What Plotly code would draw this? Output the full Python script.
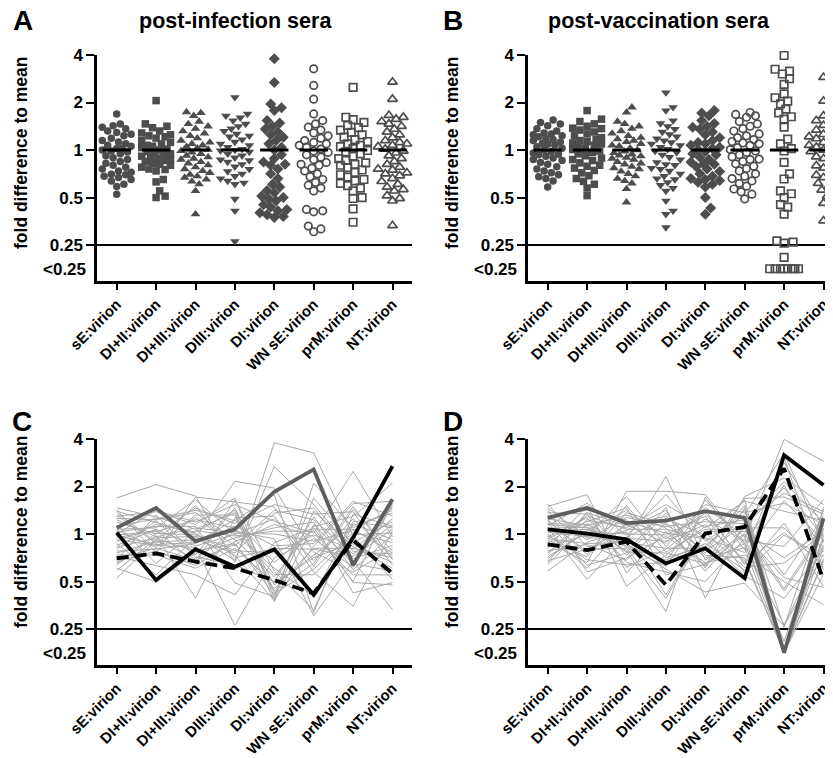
import math
import plotly.graph_objects as go

# ---------------- data ----------------
categories = ["sE:virion", "DI+II:virion", "DI+III:virion", "DIII:virion",
              "DI:virion", "WN sE:virion", "prM:virion", "NT:virion"]
ytick_vals = [4, 2, 1, 0.5, 0.25]
ytick_text = ["4", "2", "1", "0.5", "0.25"]
below_text = "<0.25"
BELOW_POS = 0.177      # plotting position of values below 0.25
LOD = 0.25             # detection limit line
MEAN = 1.0             # mean line (fold difference to mean = 1)

# log2 fold difference to mean, one value per serum (None = below 0.25)
# row 0: dark grey highlighted serum, row 1: black serum, row 2: black dashed serum
inf_sE = [0.13, 0.03, -0.51, 0.4, -0.55, 0.2, -0.08, 0.76, -0.36, 0.04, -0.65, 0.33, -0.2, 0.48, -0.93, 0.0, -0.44, 0.25, -0.12, 0.55, -0.72, 0.1, -0.28, 0.37, -0.58, -0.02, 0.45, -0.16, -0.47, 0.17, -0.77, 0.3, -0.32, 0.51, -0.62, 0.08, -0.24, -0.4, -0.04, -0.52]
inf_DI_II = [0.55, -0.97, -0.41, -0.2, 0.4, -0.62, 0.08, 1.04, -0.32, 0.16, -0.03, 0.3, -0.86, 0.25, -0.13, 0.5, -0.44, 0.0, -0.24, 0.36, -1.0, 0.13, -0.08, 0.47, -0.36, 0.05, -0.17, 0.2, -0.67, 0.32, -0.1, -0.06, 0.28, -0.4, 0.02, -0.28, 0.1, -0.15, -0.22, -0.3]
inf_DI_III = [-0.15, -0.32, -0.58, 0.35, -0.44, 0.07, -0.62, 0.8, -0.2, 0.16, -1.35, 0.45, -0.08, 0.01, -0.52, 0.25, -0.72, 0.55, -0.28, 0.1, -0.4, 0.72, -0.05, 0.2, -0.66, 0.3, -0.12, 0.04, -0.86, 0.5, -0.36, 0.13, -0.48, 0.78, -0.02, 0.4, -0.25, 0.6, -0.18, -0.55]
inf_DIII = [0.10, -0.69, -0.72, -0.25, 0.55, -0.04, 0.72, -0.6, 0.17, -1.03, 0.34, -0.12, 1.11, -0.45, 0.06, 0.62, -0.3, 0.22, -1.92, 0.45, -0.08, 0.0, -0.55, 0.76, -0.16, 0.13, -0.4, 0.5, -1.28, 0.28, -0.2, 0.02, -0.65, 0.68, -0.35, 0.4, -0.01, -0.5, 0.3, -0.22]
inf_DI = [0.89, -0.32, -0.97, 0.5, -1.2, 0.06, -0.78, 1.92, -0.25, -1.32, 0.38, -0.9, 0.97, -1.4, -0.1, 0.27, -1.03, 0.62, -0.5, -1.25, 0.13, -0.72, 1.42, -1.36, 0.2, -0.85, 0.44, -1.07, -0.18, 0.83, -1.28, 0.0, -1.0, 0.57, -0.4, -1.42, 0.32, -0.3, -0.6, -1.15]
inf_WN = [1.36, -1.28, -1.25, 0.3, -0.62, 0.06, -1.6, 1.71, -0.2, 0.48, -0.8, 0.16, -0.38, 1.07, -1.72, 0.02, -0.5, 0.42, -0.1, -0.74, 0.25, -1.3, 0.62, -0.26, -0.05, -0.86, 0.55, -0.44, 0.13, -1.66, 0.76, -0.15, 0.36, -0.68, -0.02, 0.2, -0.56, -0.32, 0.1, -0.3]
inf_prM = [-0.65, -0.08, -0.13, -0.42, 0.58, -1.0, 0.22, -0.04, 0.69, -0.27, -1.52, 0.37, -0.8, 0.13, -0.57, 1.32, -0.18, 0.47, -0.7, 0.03, -1.24, 0.27, -0.37, 0.64, -0.86, -0.01, -0.52, 0.18, -1.02, 0.42, -0.22, 0.07, -0.75, 0.52, -0.32, -0.62, 0.32, -0.47, 0.1, -0.3]
inf_NT = [0.73, 1.43, -0.83, 0.2, -0.54, 0.65, -0.12, -0.96, 0.38, -0.72, 0.07, 1.07, -0.3, 0.5, -1.59, -0.06, 0.26, -0.66, 0.6, -0.18, -1.02, 0.13, -0.42, 0.69, -0.86, 0.02, -0.24, 0.44, -1.07, 0.16, -0.6, 0.55, -0.02, -0.36, 0.32, -0.78, -0.48, 0.1, -0.4, -0.5]

vac_sE = [0.34, 0.10, -0.22, 0.28, -0.44, 0.04, 0.58, -0.17, -0.65, 0.4, -0.06, 0.14, -0.52, 0.63, -0.3, 0.0, 0.2, -0.78, 0.45, -0.13, 0.07, -0.4, 0.51, -0.26, 0.17, -0.56, 0.32, -0.03, -0.6, 0.55, -0.09, 0.24, -0.48, 0.36, -0.35, 0.12, 0.3, -0.2, -0.1, 0.22]
vac_DI_II = [0.55, 0.01, -0.34, -0.38, 0.46, -0.05, 0.83, -0.6, 0.22, -0.12, 0.34, -0.96, 0.07, -0.27, 0.6, -0.72, 0.13, -0.17, 0.42, -0.48, 0.1, 0.3, -0.8, -0.02, 0.65, -0.32, 0.18, -0.54, 0.45, -0.08, 0.26, -0.66, 0.04, 0.5, -0.22, 0.15, -0.43, 0.38, -0.2, 0.2]
vac_DI_III = [0.23, -0.11, -0.16, 0.2, -0.45, 0.04, -0.82, 0.9, -0.25, 0.35, -0.6, -0.06, 0.5, -0.13, -1.1, 0.26, -0.35, 0.08, -0.7, 0.45, -0.2, 0.13, -0.5, 0.79, -0.03, -0.3, 0.4, -0.65, 0.17, -0.09, 0.55, -0.4, 0.0, 0.3, -0.55, -0.28, 0.6, 0.1, -0.18, -0.38]
vac_DIII = [0.28, -0.62, -1.07, -0.2, 0.44, -1.28, 0.06, 0.9, -0.55, 0.16, -0.8, 0.33, -0.1, 1.21, -0.44, 0.02, -1.63, 0.5, -0.32, 0.2, -0.74, 0.62, -0.05, -0.26, 0.83, -1.35, 0.13, -0.6, 0.38, -0.15, -0.86, 0.56, -0.02, -0.5, 0.24, -0.68, -0.38, 0.1, -0.3, -0.4]
vac_DI = [0.48, -0.30, 0.01, 0.62, -0.45, 0.06, -0.68, 0.83, -0.2, 0.26, -1.0, -0.03, 0.44, -0.55, 0.16, -0.1, 0.78, -0.72, 0.32, -0.35, -1.22, 0.13, -0.6, 0.56, -0.15, 0.03, -0.78, 0.72, -0.4, 0.2, -0.64, -1.35, 0.38, -0.25, -0.5, 0.5, 0.1, -0.08, -0.3, -0.62]
vac_WN = [0.34, -0.93, 0.15, 0.45, -0.5, 0.05, 0.79, -0.24, -0.76, 0.22, -0.1, 0.72, -0.6, 0.01, 0.3, -0.88, -0.34, 0.55, -0.14, 0.18, -1.03, 0.69, -0.44, -0.05, 0.4, -0.7, 0.13, -0.19, 0.75, -0.55, -0.02, 0.26, -0.82, 0.5, -0.29, -0.65, 0.1, -0.39, 0.6, -0.2]
vac_prM = [None, 1.66, 1.38, 0.65, None, -0.5, 1.18, -1.91, 0.23, -0.86, 1.99, None, 0.03, -1.2, 0.86, -1.35, 1.5, None, -0.26, 0.97, -1.94, 0.48, -1.0, None, 1.7, -0.61, 0.13, -2.26, 0.78, None, -0.92, 1.1, -0.02, -1.96, None, 1.6, -1.15, 0.7, None, 1.03]
vac_NT = [0.33, 1.03, -0.97, 0.2, -0.53, 0.06, 0.62, -0.23, -1.1, 0.38, 1.53, -0.1, -0.64, 0.03, 0.47, -0.33, 0.16, -0.84, 0.72, -0.06, -0.43, 0.28, -1.49, 0.57, -0.18, 0.0, -0.7, 0.13, 0.42, -0.28, -1.12, 0.24, -0.48, 0.52, -0.03, -0.76, 0.1, -0.14, -0.58, -0.38]

inf_cols = [inf_sE, inf_DI_II, inf_DI_III, inf_DIII, inf_DI, inf_WN, inf_prM, inf_NT]
vac_cols = [vac_sE, vac_DI_II, vac_DI_III, vac_DIII, vac_DI, vac_WN, vac_prM, vac_NT]

symbols = ["circle", "square", "triangle-up", "triangle-down", "diamond",
           "circle-open", "square-open", "triangle-up-open"]

# ---------------- styling ----------------
PAGE_W, PAGE_H = 833, 758
OFF = 8                        # default page margin around the figure
W, H = PAGE_W - OFF, PAGE_H - OFF
FONT = "Liberation Sans"
MARK = "#4d4d4d"
GREY = "#a8a8a8"
DARKGREY = "#5e5e5e"
PX_PER_LOG2 = 47.5
PX_PER_CAT = 39.4


def pxx(x):
    return (x - OFF) / W


def pxy(y):
    return 1 - (y - OFF) / H


def fold(v):
    return BELOW_POS if v is None else 2 ** v


def swarm_offsets(ypix, size=7.4, step=1.8, max_off=14.5):
    n = len(ypix)
    order = sorted(range(n), key=lambda i: ypix[i])
    cands = [0.0]
    k = 1
    while k * step <= max_off + 1e-9:
        cands += [k * step, -k * step]
        k += 1
    placed, offs = [], [0.0] * n
    for i in order:
        y = ypix[i]
        near = [(ox, oy) for ox, oy in placed if abs(oy - y) < size]
        chosen = None
        for c in cands:
            if all((c - ox) ** 2 + (y - oy) ** 2 >= size * size for ox, oy in near):
                chosen = c
                break
        if chosen is None:
            chosen = max(cands, key=lambda c: min((c - ox) ** 2 + (y - oy) ** 2 for ox, oy in near))
        placed.append((chosen, y))
        offs[i] = chosen
    return offs


fig = go.Figure()

# ---------- scatter panels A (x,y) and B (x2,y2) ----------
for cols, xa, ya in [(inf_cols, "x", "y"), (vac_cols, "x2", "y2")]:
    fig.add_trace(go.Scatter(x=[-0.5, 7.5], y=[LOD, LOD], mode="lines",
                             line=dict(color="black", width=2), xaxis=xa, yaxis=ya,
                             showlegend=False, hoverinfo="skip"))
    for j, col in enumerate(cols):
        ypix = [(-2.5 if v is None else v) * PX_PER_LOG2 for v in col]
        offs = swarm_offsets(ypix)
        xs = [j + o / PX_PER_CAT for o in offs]
        ys = [fold(v) for v in col]
        open_sym = symbols[j].endswith("open")
        big = "triangle" in symbols[j] or "diamond" in symbols[j]
        fig.add_trace(go.Scatter(
            x=xs, y=ys, mode="markers", xaxis=xa, yaxis=ya, showlegend=False,
            cliponaxis=False,
            marker=dict(symbol=symbols[j], size=8.5 if big else 7.5,
                        color=MARK, line=dict(color=MARK, width=1.7 if open_sym else 0))))
    mx, my = [], []
    for j in range(len(cols)):
        mx += [j - 0.36, j + 0.36, None]
        my += [MEAN, MEAN, None]
    fig.add_trace(go.Scatter(x=mx, y=my, mode="lines", line=dict(color="black", width=3),
                             xaxis=xa, yaxis=ya, showlegend=False, hoverinfo="skip"))

# ---------- line panels C (x3,y3) and D (x4,y4) ----------
for cols, xa, ya in [(inf_cols, "x3", "y3"), (vac_cols, "x4", "y4")]:
    fig.add_trace(go.Scatter(x=[-0.5, 7.5], y=[LOD, LOD], mode="lines",
                             line=dict(color="black", width=2), xaxis=xa, yaxis=ya,
                             showlegend=False, hoverinfo="skip"))
    n = len(cols[0])
    xs = list(range(len(cols)))
    for r in range(3, n):
        fig.add_trace(go.Scatter(x=xs, y=[fold(c[r]) for c in cols], mode="lines",
                                 line=dict(color=GREY, width=1), xaxis=xa, yaxis=ya,
                                 showlegend=False, hoverinfo="skip"))
    styles = {0: dict(color=DARKGREY, width=3.8),
              2: dict(color="black", width=3.8, dash="12px,6px"),
              1: dict(color="black", width=3.8)}
    for r in [0, 2, 1]:
        fig.add_trace(go.Scatter(x=xs, y=[fold(c[r]) for c in cols], mode="lines",
                                 line=styles[r], xaxis=xa, yaxis=ya,
                                 showlegend=False, hoverinfo="skip"))

# ---------- axes ----------
ylog_range = [math.log10(0.148), math.log10(4)]
xcommon = dict(tickmode="array", tickvals=list(range(len(categories))), ticktext=categories,
               tickangle=-45, ticks="outside", ticklen=6, tickwidth=2, tickcolor="black",
               showline=True, linecolor="black", linewidth=2.5, showgrid=False, zeroline=False,
               automargin=False,
               tickfont=dict(family=FONT, size=15, color="black", weight="bold"))
ycommon = dict(type="log", range=ylog_range, tickmode="array", tickvals=ytick_vals,
               ticktext=ytick_text, ticks="outside", ticklen=8, tickwidth=2, tickcolor="black",
               showline=True, linecolor="black", linewidth=2.5, showgrid=False, zeroline=False,
               automargin=False,
               tickfont=dict(family=FONT, size=17, color="black", weight="bold"))

left_dom = [pxx(97), pxx(97 + 8 * PX_PER_CAT)]
right_dom = [pxx(528), 1.0]
right_max = -0.5 + (PAGE_W - 528) / PX_PER_CAT
top_dom = [pxy(281), pxy(55)]
bot_dom = [pxy(665), pxy(439)]

fig.update_layout(
    xaxis=dict(xcommon, domain=left_dom, range=[-0.5, 7.5], anchor="y"),
    xaxis2=dict(xcommon, domain=right_dom, range=[-0.5, right_max], anchor="y2"),
    xaxis3=dict(xcommon, domain=left_dom, range=[-0.5, 7.5], anchor="y3"),
    xaxis4=dict(xcommon, domain=right_dom, range=[-0.5, right_max], anchor="y4"),
    yaxis=dict(ycommon, domain=top_dom, anchor="x"),
    yaxis2=dict(ycommon, domain=top_dom, anchor="x2"),
    yaxis3=dict(ycommon, domain=bot_dom, anchor="x3"),
    yaxis4=dict(ycommon, domain=bot_dom, anchor="x4"),
)

# ---------- annotations ----------
ann = []
bold = dict(family=FONT, color="black", weight="bold")
for (lx, ly, letter) in [(23, 20, "A"), (453, 20, "B"), (22, 421, "C"), (453, 421, "D")]:
    ann.append(dict(x=pxx(lx), y=pxy(ly), xref="paper", yref="paper", text=letter,
                    showarrow=False, xanchor="center", yanchor="middle",
                    font=dict(bold, size=28)))
for (tx, ty, t) in [(235, 21, "post-infection sera"), (659, 21, "post-vaccination sera")]:
    ann.append(dict(x=pxx(tx), y=pxy(ty), xref="paper", yref="paper", text=t,
                    showarrow=False, xanchor="center", yanchor="middle",
                    font=dict(bold, size=21.5)))
for (tx, ty) in [(21, 153), (452, 153), (21, 532), (452, 532)]:
    ann.append(dict(x=pxx(tx), y=pxy(ty), xref="paper", yref="paper",
                    text="fold difference to mean", textangle=-90,
                    showarrow=False, xanchor="center", yanchor="middle",
                    font=dict(bold, size=17.5)))
for (bx, by) in [(88, 270), (519, 270), (88, 653), (519, 653)]:
    ann.append(dict(x=pxx(bx), y=pxy(by), xref="paper", yref="paper", text=below_text,
                    showarrow=False, xanchor="right", yanchor="middle",
                    font=dict(bold, size=17)))

fig.update_layout(
    width=W, height=H, margin=dict(l=0, r=0, t=0, b=0, autoexpand=False),
    paper_bgcolor="white", plot_bgcolor="white",
    annotations=ann, showlegend=False,
)

fig.write_html("out.html")
